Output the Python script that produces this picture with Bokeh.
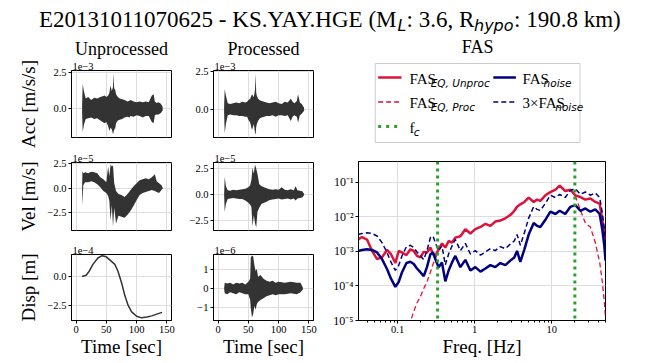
from bokeh.plotting import figure
from bokeh.layouts import row, column
from bokeh.models import Range1d, FixedTicker, Span, Title
from bokeh.core.properties import value
from bokeh.embed import file_html
from bokeh.resources import INLINE

SERIF = "Liberation Serif"
SANS = "DejaVu Sans"
RED = "#dc143c"
NAVY = "#000080"
GREEN = "#2ca02c"
WAVE = "#333333"

# ---------------- data ----------------
time_ticks = [0, 50, 100, 150]
time_tick_labels = ["0", "50", "100", "150"]
amp_ticks = [-2.5, 0.0, 2.5]
amp_tick_labels = ["\u22122.5", "0.0", "2.5"]
unit_ticks = [-1.0, 0.0, 1.0]
unit_tick_labels = ["\u22121", "0", "1"]

# acceleration, unprocessed (x1e-3 m/s/s): envelope of the trace
acc_unp_t = [10, 11, 13, 16, 20, 25, 30, 35, 40, 44, 47, 50, 53, 55, 57, 59, 61, 62, 63, 64, 66, 69, 72, 76, 80,
             85, 88, 90, 95, 100, 105, 110, 115, 120, 125, 128, 130, 133, 136, 140, 143]
acc_unp_hi = [0.3, 1.7, 1.2, 0.7, 0.8, 0.6, 0.75, 0.7, 0.8, 0.85, 0.9, 0.8, 0.9, 1.1, 1.6, 1.2, 1.5, 2.45, 1.3, 1.4,
              1.0, 0.8, 0.7, 0.65, 0.6, 0.5, 0.55, 0.6, 0.5, 0.45, 0.5, 0.45, 0.5, 0.45, 0.9, 1.0, 0.5, 0.4, 0.45,
              0.35, 0.1]
acc_unp_lo = [-0.3, -1.6, -1.1, -0.7, -0.65, -0.6, -0.7, -0.65, -0.8, -0.9, -1.0, -0.9, -1.2, -1.5, -1.3, -1.4, -1.75,
              -1.6, -1.3, -1.5, -1.0, -0.8, -0.75, -0.7, -0.6, -0.55, -0.6, -0.5, -0.55, -0.45, -0.5, -0.6, -0.5,
              -0.5, -0.9, -1.0, -0.45, -0.4, -0.4, -0.3, -0.1]

# acceleration, processed (x1e-3 m/s/s)
acc_pro_t = [10, 11, 13, 16, 20, 25, 30, 35, 40, 45, 48, 50, 53, 56, 59, 61, 62, 63, 64, 66, 69, 72, 76, 80, 85, 90,
             95, 100, 105, 110, 115, 120, 123, 126, 130, 132, 135, 138, 142]
acc_pro_hi = [0.2, 1.35, 0.9, 0.4, 0.35, 0.4, 0.45, 0.4, 0.5, 0.45, 0.5, 0.6, 0.7, 1.0, 0.8, 1.3, 2.4, 1.1, 0.9, 0.7,
              0.6, 0.55, 0.5, 0.45, 0.4, 0.45, 0.5, 0.4, 0.35, 0.5, 0.45, 0.7, 0.5, 0.4, 0.55, 1.0, 0.45, 0.35, 0.1]
acc_pro_lo = [-0.2, -1.6, -1.0, -0.4, -0.35, -0.4, -0.4, -0.45, -0.45, -0.5, -0.5, -0.7, -0.9, -1.4, -1.0, -1.6, -1.7,
              -1.2, -1.0, -0.8, -0.6, -0.55, -0.5, -0.45, -0.45, -0.4, -0.5, -0.4, -0.4, -0.45, -0.4, -0.8, -0.5,
              -0.4, -0.5, -0.9, -0.4, -0.3, -0.1]

# velocity, unprocessed (x1e-5 m/s)
vel_unp_t = [10, 10.5, 12, 15, 20, 25, 30, 35, 40, 45, 50, 53, 55, 57, 59, 61, 63, 66, 70, 75, 80, 85, 90, 95, 100,
             105, 110, 115, 120, 125, 130, 133, 137, 141, 143]
vel_unp_hi = [0.0, 1.7, 1.5, 1.6, 1.5, 1.65, 1.6, 1.5, 1.1, 0.9, 0.6, 2.2, 1.2, 2.4, 2.2, 2.3, 0.5, -0.3, -0.6, -0.7,
              -0.9, -0.6, -0.2, 0.2, 0.5, 0.8, 0.9, 1.0, 0.9, 1.1, 1.4, 0.7, 0.5, 0.3, 0.05]
vel_unp_lo = [0.0, -1.75, 0.3, 0.6, 0.6, 0.7, 0.6, 0.4, 0.1, -0.3, -0.5, -0.8, -1.3, -3.3, -1.7, -3.9, -2.0, -3.6,
              -2.8, -2.9, -3.0, -2.7, -2.3, -1.8, -1.2, -0.7, -0.5, -0.4, -0.3, -0.2, -0.3, -0.4, -0.5, -0.2, -0.05]

# velocity, processed (x1e-5 m/s)
vel_pro_t = [10, 11, 13, 16, 20, 25, 30, 35, 40, 45, 50, 53, 55, 57, 59, 61, 63, 65, 68, 72, 76, 80, 85, 90, 95, 100,
             105, 110, 115, 120, 125, 128, 131, 135, 139, 142]
vel_pro_hi = [0.0, 1.7, 0.8, 0.4, 0.35, 0.45, 0.4, 0.45, 0.5, 0.55, 0.7, 0.9, 1.4, 2.6, 2.0, 2.9, 2.5, 2.0, 1.0, 0.8,
              0.7, 0.6, 0.5, 0.45, 0.5, 0.45, 0.7, 0.45, 0.4, 0.5, 0.4, 0.8, 0.4, 0.35, 0.3, 0.05]
vel_pro_lo = [0.0, -1.7, -0.9, -0.45, -0.4, -0.35, -0.4, -0.45, -0.45, -0.6, -0.8, -1.0, -1.2, -3.1, -2.0, -2.8, -3.2,
              -1.7, -1.3, -0.9, -0.8, -0.7, -0.55, -0.5, -0.45, -0.4, -0.5, -0.45, -0.4, -0.5, -0.4, -0.6, -0.4,
              -0.35, -0.3, -0.05]

# displacement, unprocessed (x1e-4 m)
disp_unp_t = [10, 16.7, 22, 27.8, 36, 43, 50, 58, 64, 69, 75, 80.5, 86, 91.7, 100, 108, 117, 125, 133, 142]
disp_unp = [0.0, 0.11, 0.48, 1.05, 1.6, 1.8, 1.7, 1.33, 1.05, 0.48, -0.51, -1.65, -2.5, -3.06, -3.43, -3.57, -3.49,
            -3.4, -3.25, -3.1]

# displacement, processed (x1e-6 m)
disp_pro_t = [10, 11, 15, 20, 25, 30, 35, 40, 45, 50, 53, 54, 56, 58, 60, 62, 64, 66, 70, 75, 80, 85, 90, 95, 100,
              110, 120, 130, 136, 140]
disp_pro_hi = [0.0, 0.3, 0.25, 0.3, 0.2, 0.3, 0.25, 0.3, 0.2, 0.35, 0.5, 1.6, 1.7, 1.65, 1.2, 0.9, 1.0, 0.6, 0.7, 0.5,
               0.4, 0.35, 0.4, 0.3, 0.35, 0.3, 0.35, 0.3, 0.3, 0.05]
disp_pro_lo = [0.0, -0.25, -0.3, -0.2, -0.25, -0.3, -0.2, -0.25, -0.3, -0.3, -0.6, -1.0, -1.5, -1.3, -0.9, -1.1, -0.8,
               -0.7, -0.6, -0.5, -0.4, -0.35, -0.3, -0.35, -0.3, -0.3, -0.25, -0.3, -0.2, -0.05]

# Fourier amplitude spectra
freq = [0.0305, 0.0344, 0.040, 0.0465, 0.054, 0.0626, 0.0727, 0.0819, 0.0933, 0.103, 0.114, 0.130, 0.146, 0.162,
        0.178, 0.197, 0.218, 0.240, 0.266, 0.288, 0.308, 0.340, 0.376, 0.416, 0.459, 0.508, 0.561, 0.652, 0.757,
        0.879, 1.02, 1.19, 1.38, 1.60, 1.85, 2.15, 2.50, 2.90, 3.27, 3.55, 3.92, 4.42, 5.03, 5.84, 6.45, 7.13, 8.28,
        9.61, 11.2, 12.7, 15.0, 17.5, 20.3, 23.6, 27.4, 31.8, 36.9, 42.0, 45.5, 48.3, 50.0]
fas_eq_unproc = [2.2e-3, 2.6e-3, 2.2e-3, 1.03e-3, 6.0e-4, 6.7e-4, 1.1e-3, 8.3e-4, 4.6e-4, 1.03e-3, 9.3e-4, 7.8e-4,
                 1.15e-3, 1.03e-3, 7.4e-4, 6.7e-4, 9.7e-4, 9.3e-4, 1.29e-3, 8.3e-4, 7.4e-4, 1.15e-3, 1.7e-3, 1.29e-3,
                 2.0e-3, 1.8e-3, 2.5e-3, 2.75e-3, 4.4e-3, 3.3e-3, 4.4e-3, 5.1e-3, 6.3e-3, 5.5e-3, 7.3e-3, 7.8e-3,
                 9.1e-3, 1.13e-2, 1.5e-2, 1.95e-2, 2.3e-2, 2.7e-2, 3.6e-2, 2.7e-2, 3.15e-2, 2.9e-2, 4.2e-2, 5.2e-2,
                 6.1e-2, 8.0e-2, 5.6e-2, 6.1e-2, 4.2e-2, 3.75e-2, 3.15e-2, 3.4e-2, 2.7e-2, 2.4e-2, 8.2e-3, 3.4e-3,
                 2.2e-3]
NaN = float("nan")
fas_eq_proc = [NaN, NaN, NaN, NaN, NaN, NaN, NaN, NaN, NaN, NaN, 1.5e-6, 4.0e-6,
               9.0e-6, 1.84e-5, 3.2e-5, 4.9e-5, 8.4e-5, 1.3e-4, 2.5e-4, 4.3e-4, 6.0e-4, 1.1e-3, 1.7e-3, 1.29e-3,
               2.0e-3, 1.8e-3, 2.5e-3, 2.75e-3, 4.4e-3, 3.3e-3, 4.4e-3, 5.1e-3, 6.3e-3, 5.5e-3, 7.3e-3, 7.8e-3,
               9.1e-3, 1.13e-2, 1.5e-2, 1.95e-2, 2.3e-2, 2.7e-2, 3.6e-2, 2.7e-2, 3.15e-2, 2.9e-2, 4.2e-2, 5.2e-2,
               6.1e-2, 8.0e-2, 5.6e-2, 6.1e-2, 4.0e-2, 1.57e-2, 6.6e-3, 5.1e-3, 1.78e-3, 4.8e-4, 1.3e-4, 3.5e-5,
               1.19e-5]
fas_noise = [1.03e-3, 1.1e-3, 1.15e-3, 1.1e-3, 9.3e-4, 6.0e-4, 3.1e-4, 1.62e-4, 9.4e-5, 1.3e-4, 2.5e-4, 4.6e-4,
             5.0e-4, 4.3e-4, 3.2e-4, 2.5e-4, 1.93e-4, 3.5e-4, 8.3e-4, 9.3e-4, 6.0e-4, 3.5e-4, 4.8e-4, 1.36e-4,
             2.8e-4, 4.8e-4, 7.4e-4, 3.5e-4, 5.7e-4, 2.8e-4, 3.5e-4, 2.6e-4, 3.2e-4, 4.0e-4, 3.5e-4, 4.6e-4,
             4.0e-4, 5.4e-4, 6.7e-4, 1.03e-3, 5.0e-4, 1.15e-3, 3.07e-3, 6.6e-3, 5.5e-3, 5.1e-3, 8.2e-3, 1.41e-2,
             1.21e-2, 1.5e-2, 1.21e-2, 1.95e-2, 2.18e-2, 1.5e-2, 1.75e-2, 1.41e-2, 1.64e-2, 1.21e-2, 4.25e-3,
             1.43e-3, 5.4e-4]
fas_noise_x3 = [3.0 * v for v in fas_noise]
fc = [0.33, 20.0]

fas_xticks = [0.1, 1.0, 10.0]
fas_xtick_labels = ["0.1", "1", "10"]
fas_xminor = [0.04, 0.05, 0.06, 0.07, 0.08, 0.09, 0.2, 0.3, 0.4, 0.5, 0.6, 0.7, 0.8, 0.9,
              2, 3, 4, 5, 6, 7, 8, 9, 20, 30, 40, 50]
fas_yticks = [1e-5, 1e-4, 1e-3, 1e-2, 1e-1]
fas_ytick_labels = ["10\u207b\u2075", "10\u207b\u2074", "10\u207b\u00b3", "10\u207b\u00b2", "10\u207b\u00b9"]


# ---------------- helpers ----------------
def blank(w, h, xr, yr):
    p = figure(width=w, height=h, x_range=Range1d(*xr), y_range=Range1d(*yr), title=None,
               min_border=0, toolbar_location=None, output_backend="svg")
    p.axis.visible = False
    p.grid.visible = False
    p.outline_line_color = None
    p.background_fill_color = "white"
    p.border_fill_color = "white"
    return p


def style_axes(p):
    for ax in p.axis:
        ax.axis_line_color = "black"
        ax.major_tick_line_color = "black"
        ax.minor_tick_line_color = "black"
        ax.major_tick_out = 3
        ax.major_tick_in = 0
        ax.minor_tick_out = 0
        ax.minor_tick_in = 0
        ax.major_label_standoff = 2
        ax.major_label_text_font = SERIF
        ax.major_label_text_font_size = "10.5px"
        ax.major_label_text_color = "black"
        ax.axis_label_text_font = SERIF
        ax.axis_label_text_font_size = "19px"
        ax.axis_label_text_font_style = "normal"
        ax.axis_label_text_color = "black"
    p.grid.grid_line_color = "#dddddd"
    p.grid.grid_line_width = 1
    p.outline_line_color = "black"
    p.outline_line_width = 1
    p.background_fill_color = "white"
    p.border_fill_color = "white"


def panel(w, h, left, right, top, bottom, yr, yticks, ylabels, offset_text,
          ylabel=None, ylabel_standoff=0, show_x=False, header=None):
    p = figure(width=w, height=h, min_border_left=left, min_border_right=right,
               min_border_top=top, min_border_bottom=bottom, title=None,
               x_range=Range1d(-7.5, 157.5), y_range=Range1d(*yr),
               toolbar_location=None, output_backend="svg")
    style_axes(p)
    p.xaxis.ticker = FixedTicker(ticks=time_ticks)
    p.xgrid.ticker = FixedTicker(ticks=time_ticks)
    p.xaxis.major_label_overrides = dict(zip(time_ticks, time_tick_labels))
    p.yaxis.ticker = FixedTicker(ticks=yticks)
    p.yaxis.major_label_overrides = dict(zip(yticks, ylabels))
    if show_x:
        p.xaxis.axis_label = "Time [sec]"
        p.xaxis.axis_label_standoff = 0
    else:
        p.xaxis.visible = False
    if ylabel:
        p.yaxis.axis_label = ylabel
        p.yaxis.axis_label_standoff = ylabel_standoff
    p.add_layout(Title(text=offset_text, align="left", offset=1, standoff=1, text_font=SERIF,
                       text_font_size="10.5px", text_font_style="normal", text_color="black"), "above")
    if header:
        p.add_layout(Title(text=header, align="center", standoff=3, text_font=SERIF,
                           text_font_size="18px", text_font_style="normal", text_color="black"), "above")
    return p


# ---------------- main title ----------------
hdr = blank(657, 35, (0, 657), (35, 0))
main_kw = dict(text_font=value(SERIF), text_font_size="23px", text_color="black",
               text_baseline="middle")
sub_kw = dict(text_font=value(SANS), text_font_style=value("italic"), text_font_size="16px",
              text_color="black", text_align="left", text_baseline="middle")
hdr.text(x=[396], y=[19], text=["E20131011070625 - KS.YAY.HGE (M"], text_align="right", **main_kw)
hdr.text(x=[397], y=[25], text=["L"], **sub_kw)
hdr.text(x=[406], y=[19], text=[": 3.6, R"], text_align="left", **main_kw)
hdr.text(x=[473.5], y=[25], text=["hypo"], **sub_kw)
hdr.text(x=[513.5], y=[19], text=[": 190.8 km)"], text_align="left", **main_kw)

# ---------------- time-series panels ----------------
a1 = panel(175, 113, 71, 4, 34, 11, (-1.97, 2.62), amp_ticks, amp_tick_labels, "1e\u22123",
           ylabel="Acc [m/s/s]", ylabel_standoff=11, header="Unprocessed")
a1.varea(x=acc_unp_t, y1=acc_unp_lo, y2=acc_unp_hi, fill_color=WAVE)
v1 = panel(175, 93, 71, 4, 14, 11, (-4.3, 2.6), amp_ticks, amp_tick_labels, "1e\u22125",
           ylabel="Vel [m/s]", ylabel_standoff=5)
v1.varea(x=vel_unp_t, y1=vel_unp_lo, y2=vel_unp_hi, fill_color=WAVE)
d1 = panel(175, 118, 71, 4, 13, 37, (-3.8, 1.9), amp_ticks, amp_tick_labels, "1e\u22124",
           ylabel="Disp [m]", ylabel_standoff=5, show_x=True)
d1.line(disp_unp_t, disp_unp, line_color=WAVE, line_width=1.5)

a2 = panel(143, 113, 38, 5, 34, 11, (-1.9, 2.6), amp_ticks, amp_tick_labels, "1e\u22123",
           header="Processed")
a2.varea(x=acc_pro_t, y1=acc_pro_lo, y2=acc_pro_hi, fill_color=WAVE)
v2 = panel(143, 93, 38, 5, 14, 11, (-3.5, 3.1), amp_ticks, amp_tick_labels, "1e\u22125")
v2.varea(x=vel_pro_t, y1=vel_pro_lo, y2=vel_pro_hi, fill_color=WAVE)
d2 = panel(143, 118, 38, 5, 13, 37, (-1.65, 1.75), unit_ticks, unit_tick_labels, "1e\u22126", show_x=True)
d2.varea(x=disp_pro_t, y1=disp_pro_lo, y2=disp_pro_hi, fill_color=WAVE)

# ---------------- legend (with FAS header) ----------------
leg = blank(339, 116, (318, 657), (151, 35))
leg.text(x=[481.5], y=[46], text=["FAS"], text_font=value(SERIF), text_font_size="18px",
         text_color="black", text_align="center", text_baseline="middle")
leg.quad(left=[341], right=[622], top=[63], bottom=[142], fill_color="white", line_color="#cccccc", line_width=1)
leg.line([345, 377], [77, 77], line_color=RED, line_width=2.5)
leg.line([345, 377], [101.5, 101.5], line_color=RED, line_width=1.3, line_dash="5 3")
leg.line([345, 377], [126, 126], line_color=GREEN, line_width=3, line_dash="3 5")
leg.line([503, 534], [77, 77], line_color=NAVY, line_width=2.5)
leg.line([503, 534], [101.5, 101.5], line_color=NAVY, line_width=1.5, line_dash="5 3")
lmain = dict(text_font=value(SERIF), text_font_size="15px", text_color="black",
             text_align="left", text_baseline="middle")
lsub = dict(text_font=value(SANS), text_font_style=value("italic"), text_font_size="10.5px",
            text_color="black", text_align="left", text_baseline="middle")
leg.text(x=[388, 388, 388, 543, 543], y=[78, 102.5, 127, 78, 102.5],
         text=["FAS", "FAS", "f", "FAS", "3\u00d7FAS"], **lmain)
leg.text(x=[417, 417, 394, 572, 588], y=[82, 106.5, 131, 82, 106.5],
         text=["EQ, Unproc", "EQ, Proc", "c", "noise", "noise"], **lsub)

# ---------------- FAS panel ----------------
fas = figure(width=339, height=208, min_border_left=40, min_border_right=52, min_border_top=10,
             min_border_bottom=37, x_axis_type="log", y_axis_type="log", title=None,
             x_range=Range1d(0.031, 50), y_range=Range1d(1e-5, 0.4),
             toolbar_location=None, output_backend="svg")
style_axes(fas)
fas.xaxis.ticker = FixedTicker(ticks=fas_xticks, minor_ticks=fas_xminor)
fas.xaxis.major_label_overrides = dict(zip(fas_xticks, fas_xtick_labels))
fas.xaxis.minor_tick_out = 2
fas.yaxis.ticker = FixedTicker(ticks=fas_yticks)
fas.yaxis.major_label_overrides = dict(zip(fas_yticks, fas_ytick_labels))
fas.yaxis.major_label_text_font_size = "12px"
fas.xaxis.axis_label = "Freq. [Hz]"
fas.xaxis.axis_label_standoff = 0
fas.line(freq, fas_eq_unproc, line_color=RED, line_width=2.5)
fas.line(freq, fas_eq_proc, line_color=RED, line_width=1.3, line_dash="5 3")
fas.line(freq, fas_noise, line_color=NAVY, line_width=2.5)
fas.line(freq, fas_noise_x3, line_color=NAVY, line_width=1.5, line_dash="5 3")
for f in fc:
    fas.add_layout(Span(location=f, dimension="height", line_color=GREEN, line_width=3, line_dash="3 4"))

layout = column(hdr,
                row(column(a1, v1, d1, spacing=0),
                    column(a2, v2, d2, spacing=0),
                    column(leg, fas, spacing=0), spacing=0),
                spacing=0)

open("out.html", "w").write(file_html(layout, INLINE))
